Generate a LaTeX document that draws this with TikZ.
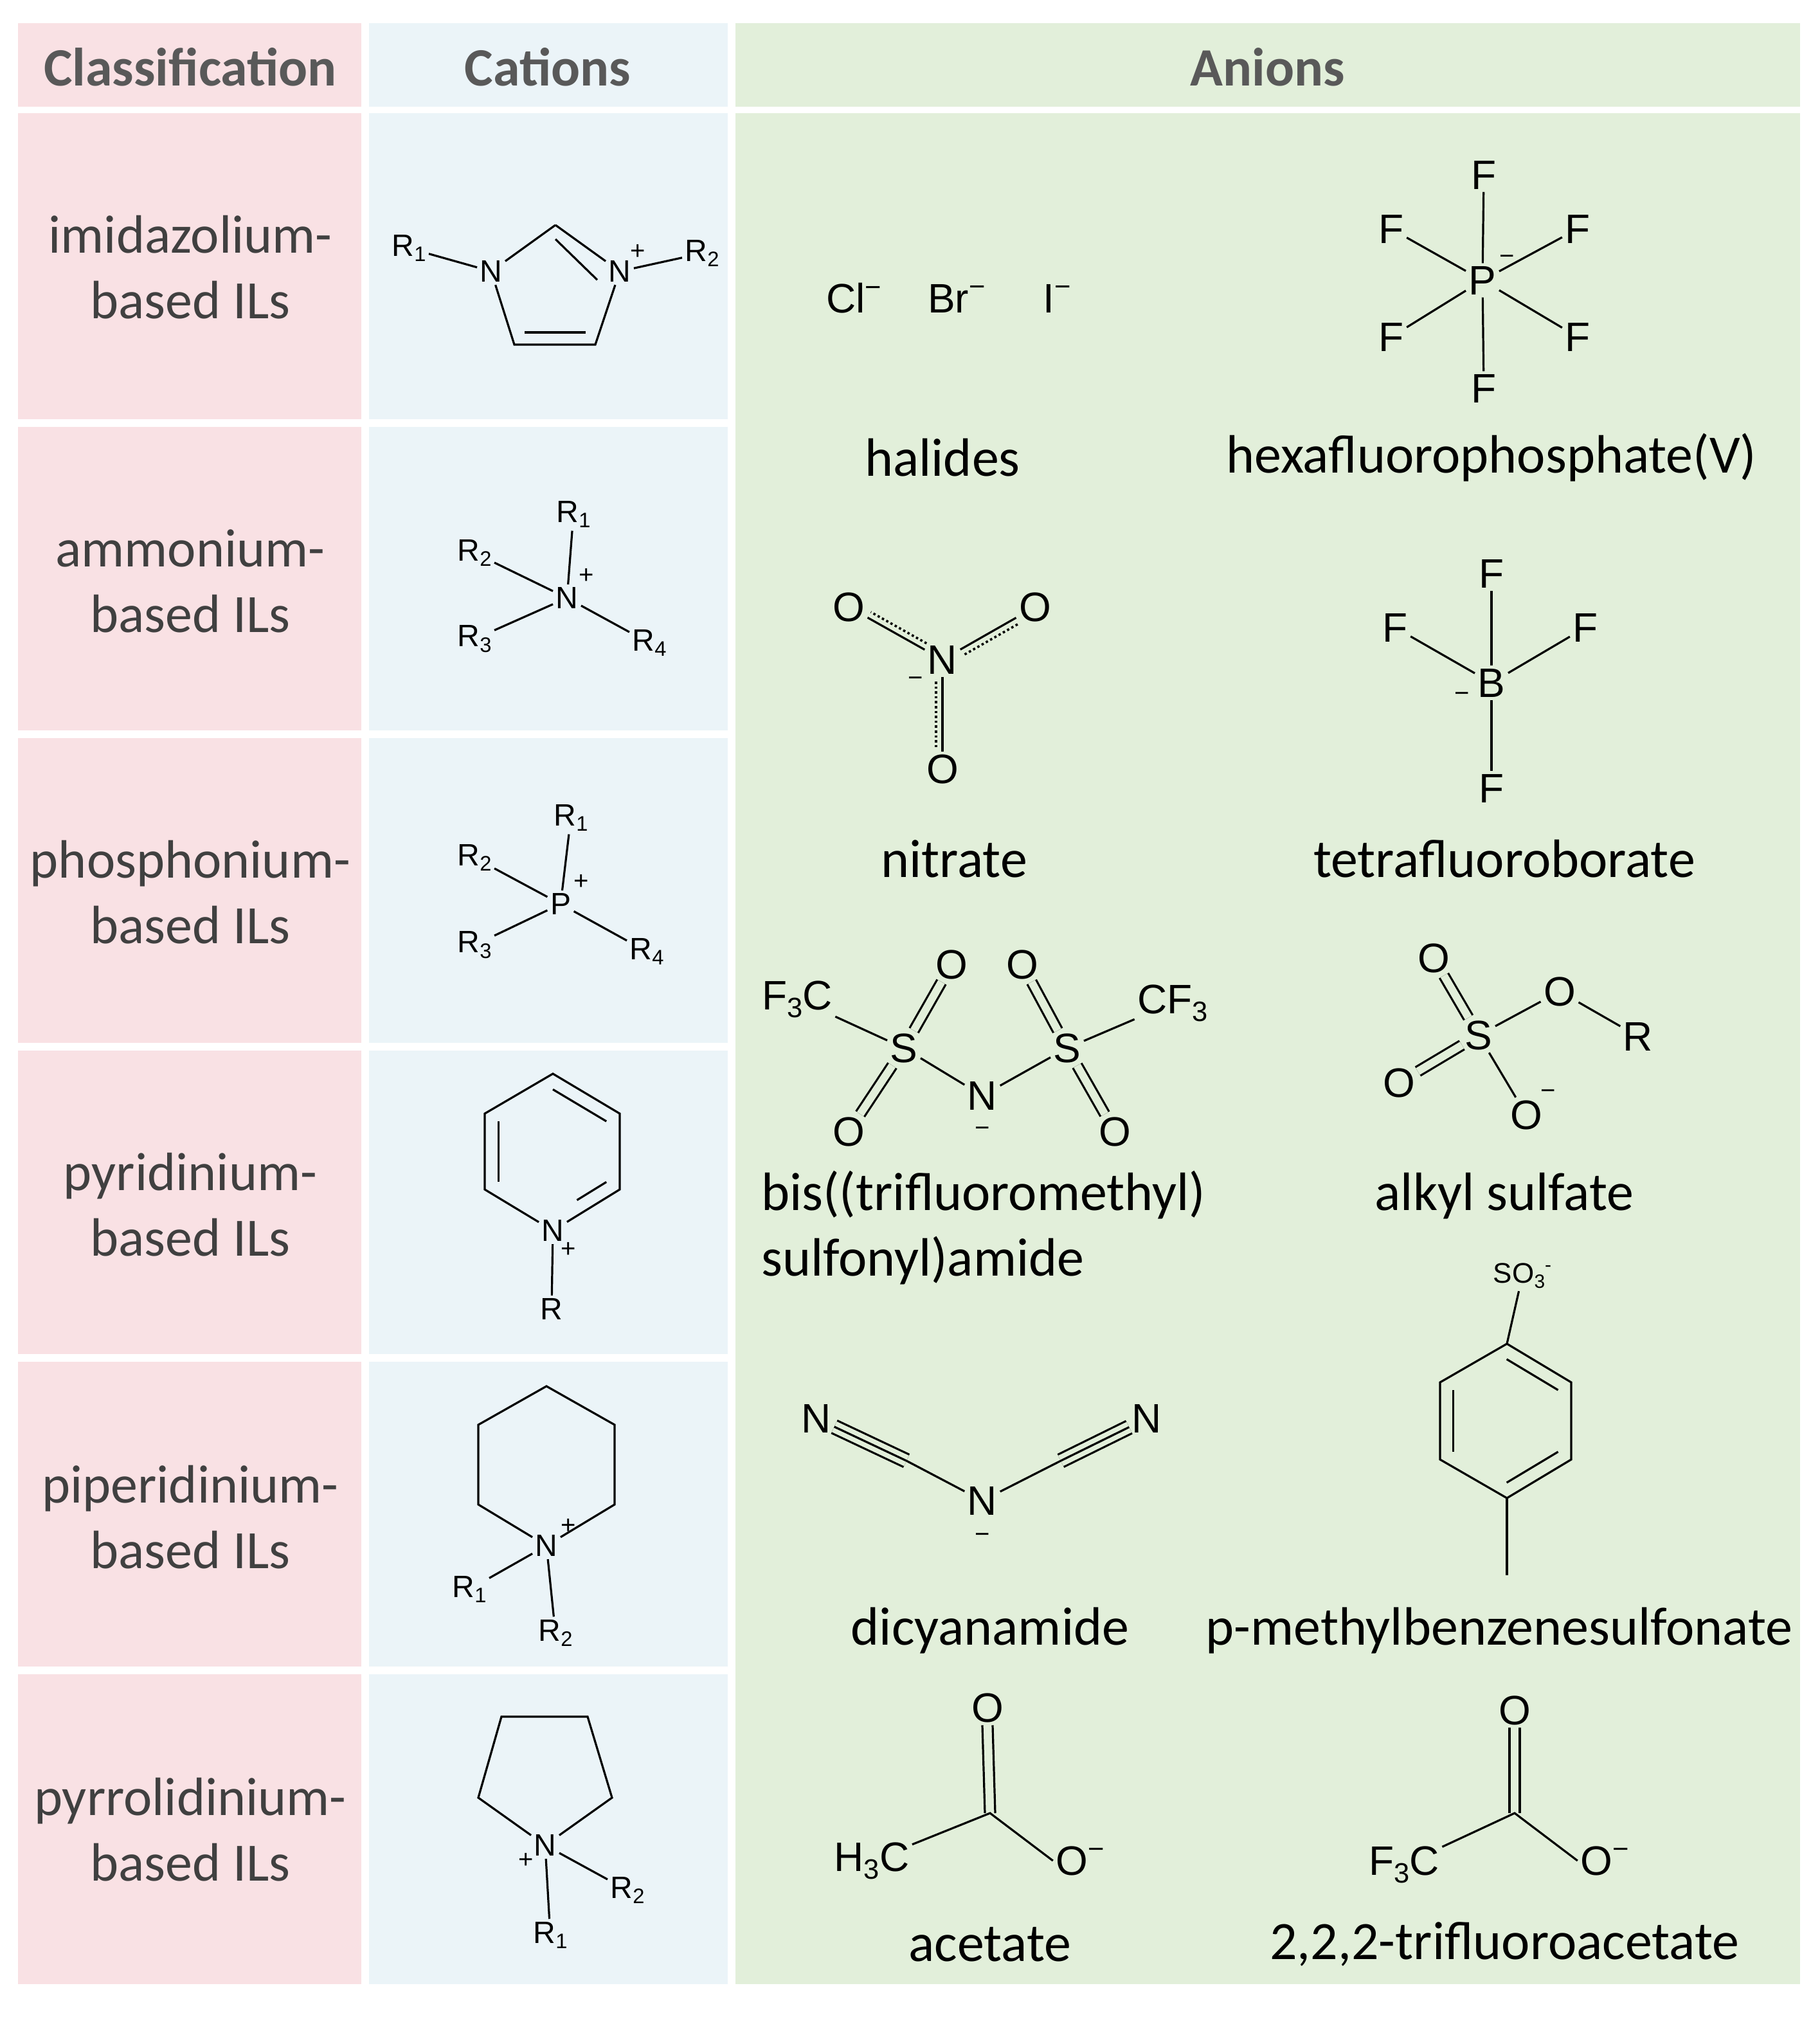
\documentclass[tikz,border=0pt]{standalone}
\usepackage{fontspec}
\setmainfont{Carlito}
\newfontfamily\chemf{Liberation Sans}
\usetikzlibrary{calc}
\definecolor{pinkbg}{HTML}{F9E1E4}
\definecolor{bluebg}{HTML}{EBF4F8}
\definecolor{greenbg}{HTML}{E2EFDA}
\definecolor{hdr}{HTML}{595959}
\definecolor{cls}{HTML}{404040}
\newcommand\chsub[1]{\raisebox{-0.35ex}{\scalebox{0.68}{#1}}}
\newcommand\chsup[1]{\raisebox{0.75ex}{\scalebox{0.68}{#1}}}
\begin{document}
\begin{tikzpicture}[x=1pt,y=-1pt,line width=1.6pt,
  hdrtxt/.style={font=\fontsize{42}{44}\selectfont\bfseries,text=hdr},
  clstxt/.style={font=\fontsize{42}{51}\selectfont,text=cls,align=center},
  lbl/.style={font=\fontsize{42}{51}\selectfont},
  ca/.style={font=\chemf\fontsize{24}{24}\selectfont,inner sep=1.5pt},
  an/.style={font=\chemf\fontsize{32}{32}\selectfont,inner sep=1.5pt},
  chg/.style={font=\chemf\fontsize{20}{20}\selectfont,inner sep=0pt},
  dbg/.style={double distance=6pt,double=greenbg},
  dbb/.style={double distance=6pt,double=bluebg}]
\useasboundingbox (0,0) rectangle (1415.5,1574);
\fill[white] (0,0) rectangle (1415.5,1574);
% backgrounds
\fill[pinkbg] (14,18) rectangle (281,83);
\fill[bluebg] (287,18) rectangle (566,83);
\fill[greenbg] (572,18) rectangle (1400,83);
\fill[greenbg] (572,88) rectangle (1400,1543);
\foreach \a/\b in {88/326,332/568,574/811,817/1053,1059/1296,1302/1543}{
  \fill[pinkbg] (14,\a) rectangle (281,\b);
  \fill[bluebg] (287,\a) rectangle (566,\b);}
% headers
\node[hdrtxt] (h1) at (148,52) {Classification};
\node[hdrtxt] (h2) at (426,52) {Cations};
\node[hdrtxt] (h3) at (986,52) {Anions};
% classification
\node[clstxt] (c1) at (148,208) {imidazolium-\\based ILs};
\node[clstxt] (c2) at (148,452) {ammonium-\\based ILs};
\node[clstxt] (c3) at (148,694) {phosphonium-\\based ILs};
\node[clstxt] (c4) at (148,937) {pyridinium-\\based ILs};
\node[clstxt] (c5) at (148,1180) {piperidinium-\\based ILs};
\node[clstxt] (c6) at (148,1423) {pyrrolidinium-\\based ILs};
% anion labels
\node[lbl] (l1) at (733,356) {halides};
\node[lbl] (l2) at (1160,356) {hexafluorophosphate(V)};
\node[lbl] (l3) at (742,668) {nitrate};
\node[lbl] (l4) at (1170,668) {tetrafluoroborate};
\node[lbl,anchor=west,align=left] (l5) at (588,955) {bis((trifluoromethyl)\\sulfonyl)amide};
\node[lbl] (l6) at (1170,930) {alkyl sulfate};
\node[lbl] (l7) at (770,1268) {dicyanamide};
\node[lbl] (l8) at (1166,1268) {p-methylbenzenesulfonate};
\node[lbl] (l9) at (770,1512) {acetate};
\node[lbl] (l10) at (1170,1512) {2,2,2-trifluoroacetate};
% ---- imidazolium
\node[ca] (iN1) at (382,211) {N};
\node[ca] (iN3) at (482,211) {N};
\node[ca] (iR1) at (318,193) {R\chsub{1}};
\node[ca] (iR2) at (546,197) {R\chsub{2}};
\node[chg] (iP) at (496,196) {+};
\coordinate (iC2) at (432,175);
\coordinate (iC4) at (463,268);
\coordinate (iC5) at (400,268);
\coordinate (ictr) at (432,230);
\draw (iR1)--(iN1); \draw (iN1)--(iC2); \draw (iC2)--(iN3);
\draw (iN3)--(iC4)--(iC5)--(iN1); \draw (iN3)--(iR2);
\draw ($(iC2)!.2!(ictr)$)--($(iN3)!.35!(ictr)$);
\draw ($(iC4)!.25!(ictr)$)--($(iC5)!.25!(ictr)$);
% ---- ammonium
\node[ca] (aN) at (441,465) {N};
\node[chg] (aP) at (456,448) {+};
\node[ca] (aR1) at (446,400) {R\chsub{1}};
\node[ca] (aR2) at (369,430) {R\chsub{2}};
\node[ca] (aR3) at (369,497) {R\chsub{3}};
\node[ca] (aR4) at (505,500) {R\chsub{4}};
\foreach \r in {aR1,aR2,aR3,aR4} \draw (aN)--(\r);
% ---- phosphonium
\node[ca] (pP) at (436,703) {P};
\node[chg] (pPl) at (452,686) {+};
\node[ca] (pR1) at (444,636) {R\chsub{1}};
\node[ca] (pR2) at (369,667) {R\chsub{2}};
\node[ca] (pR3) at (369,735) {R\chsub{3}};
\node[ca] (pR4) at (503,740) {R\chsub{4}};
\foreach \r in {pR1,pR2,pR3,pR4} \draw (pP)--(\r);
% ---- pyridinium
\coordinate (y1) at (430,835); \coordinate (y2) at (482,866);
\coordinate (y3) at (482,925); \coordinate (y5) at (377,925);
\coordinate (y6) at (377,866); \coordinate (yc) at (430,896);
\node[ca] (yN) at (430,957) {N};
\node[chg] (yP) at (442,972) {+};
\node[ca] (yR) at (429,1018) {R};
\draw (yN)--(y3)--(y2)--(y1)--(y6)--(y5)--(yN);
\draw (yN)--(yR);
\draw ($(y1)!.2!(yc)$)--($(y2)!.2!(yc)$);
\draw ($(y5)!.2!(yc)$)--($(y6)!.2!(yc)$);
\draw ($(y3)!.2!(yc)$)--($(y3)!.2!(yc)!.55!($(430,957)!.2!(yc)$)$);
% ---- piperidinium
\coordinate (q1) at (425,1078); \coordinate (q2) at (478,1108);
\coordinate (q3) at (478,1170); \coordinate (q5) at (372,1170);
\coordinate (q6) at (372,1108);
\node[ca] (qN) at (425,1202) {N};
\node[chg] (qP) at (442,1187) {+};
\node[ca] (qR1) at (365,1236) {R\chsub{1}};
\node[ca] (qR2) at (432,1270) {R\chsub{2}};
\draw (qN)--(q3)--(q2)--(q1)--(q6)--(q5)--(qN);
\draw (qN)--(qR1); \draw (qN)--(qR2);
% ---- pyrrolidinium
\coordinate (r2) at (476,1398); \coordinate (r3) at (457,1335);
\coordinate (r4) at (390,1335); \coordinate (r5) at (372,1398);
\node[ca] (rN) at (424,1435) {N};
\node[chg] (rP) at (409,1447) {+};
\node[ca] (rR2) at (488,1470) {R\chsub{2}};
\node[ca] (rR1) at (428,1505) {R\chsub{1}};
\draw (rN)--(r2)--(r3)--(r4)--(r5)--(rN);
\draw (rN)--(rR2); \draw (rN)--(rR1);
% ---- halides
\node[an] (hCl) at (664,232) {Cl\chsup{−}};
\node[an] (hBr) at (744,232) {Br\chsup{−}};
\node[an] (hI) at (822,232) {I\chsup{−}};
% ---- PF6
\node[an] (fP) at (1153,218) {P};
\node[chg] (fm) at (1172,202) {−};
\node[an] (fF1) at (1154,136) {F};
\node[an] (fF2) at (1154,302) {F};
\node[an] (fF3) at (1082,178) {F};
\node[an] (fF4) at (1227,178) {F};
\node[an] (fF5) at (1082,262) {F};
\node[an] (fF6) at (1227,262) {F};
\foreach \f in {fF1,fF2,fF3,fF4,fF5,fF6} \draw (fP)--(\f);
% ---- nitrate
\node[an] (nN) at (733,513) {N};
\node[chg] (nm) at (712,530) {−};
\node[an] (nO1) at (660,472) {O};
\node[an] (nO2) at (805,472) {O};
\node[an] (nO3) at (733,598) {O};
\foreach \o in {nO1,nO2,nO3}{
  \draw (nN)--(\o);
  \draw[dotted,line width=1.8pt,shorten <=17pt,shorten >=17pt] ($(nN)!5pt!-90:(\o)$)--($(\o)!5pt!90:(nN)$);}
% ---- BF4
\node[an] (bB) at (1160,531) {B};
\node[chg] (bm) at (1137,542) {−};
\node[an] (bF1) at (1160,446) {F};
\node[an] (bF2) at (1085,488) {F};
\node[an] (bF3) at (1233,488) {F};
\node[an] (bF4) at (1160,613) {F};
\foreach \f in {bF1,bF2,bF3,bF4} \draw (bB)--(\f);
% ---- TFSI
\node[an] (tC1) at (620,777) {F\chsub{3}C};
\node[an] (tS1) at (703,815) {S};
\node[an] (tO1) at (740,750) {O};
\node[an] (tO2) at (660,880) {O};
\node[an] (tN) at (764,852) {N};
\node[chg] (tm) at (764,880) {−};
\node[an] (tS2) at (830,815) {S};
\node[an] (tO3) at (795,750) {O};
\node[an] (tO4) at (867,880) {O};
\node[an] (tC2) at (912,780) {CF\chsub{3}};
\draw (tC1)--(tS1); \draw[dbg] (tS1)--(tO1); \draw[dbg] (tS1)--(tO2);
\draw (tS1)--(tN)--(tS2); \draw[dbg] (tS2)--(tO3); \draw[dbg] (tS2)--(tO4);
\draw (tS2)--(tC2);
% ---- alkyl sulfate
\node[an] (sS) at (1150,805) {S};
\node[an] (sO1) at (1115,745) {O};
\node[an] (sO2) at (1088,842) {O};
\node[an] (sO3) at (1187,867) {O};
\node[chg] (sm) at (1204,851) {−};
\node[an] (sO4) at (1213,771) {O};
\node[an] (sR) at (1274,806) {R};
\draw[dbg] (sS)--(sO1); \draw[dbg] (sS)--(sO2);
\draw (sS)--(sO3); \draw (sS)--(sO4)--(sR);
% ---- dicyanamide
\node[an] (dN1) at (635,1103) {N};
\node[an] (dN) at (764,1167) {N};
\node[chg] (dm) at (764,1196) {−};
\node[an] (dN3) at (892,1103) {N};
\coordinate (dC1) at (705,1136); \coordinate (dC2) at (825,1136);
\draw[double distance=9pt,double=greenbg] (dN1)--(dC1); \draw (dN1)--(dC1);
\draw[double distance=9pt,double=greenbg] (dN3)--(dC2); \draw (dN3)--(dC2);
\draw (dC1)--(dN)--(dC2);
% ---- tosylate
\node[an,font=\chemf\fontsize{22}{22}\selectfont] (oS) at (1184,992) {SO\chsub{3}\chsup{-}};
\coordinate (o1) at (1172,1045); \coordinate (o2) at (1222,1075);
\coordinate (o3) at (1222,1135); \coordinate (o4) at (1172,1165);
\coordinate (o5) at (1120,1135); \coordinate (o6) at (1120,1075);
\coordinate (oc) at (1171,1105); \coordinate (oM) at (1172,1225);
\draw (o1)--(o2)--(o3)--(o4)--(o5)--(o6)--cycle;
\draw (oS)--(o1); \draw (o4)--(oM);
\draw ($(o1)!.2!(oc)$)--($(o2)!.2!(oc)$);
\draw ($(o3)!.2!(oc)$)--($(o4)!.2!(oc)$);
\draw ($(o5)!.2!(oc)$)--($(o6)!.2!(oc)$);
% ---- acetate
\coordinate (eC) at (770,1410);
\node[an] (eO1) at (768,1328) {O};
\node[an] (eMe) at (678,1447) {H\chsub{3}C};
\node[an] (eO2) at (840,1447) {O\chsup{−}};
\draw ($(eO1.south)+(-4,0)$)--($(eC)+(-4,0)$); \draw ($(eO1.south)+(4,0)$)--($(eC)+(4,0)$);
\draw (eMe)--(eC)--(eO2.west);
% ---- TFA
\coordinate (gC) at (1178,1410);
\node[an] (gO1) at (1178,1330) {O};
\node[an] (gMe) at (1092,1450) {F\chsub{3}C};
\node[an] (gO2) at (1248,1447) {O\chsup{−}};
\draw ($(gO1.south)+(-4,0)$)--($(gC)+(-4,0)$); \draw ($(gO1.south)+(4,0)$)--($(gC)+(4,0)$);
\draw (gMe)--(gC)--(gO2.west);
\end{tikzpicture}
\end{document}
